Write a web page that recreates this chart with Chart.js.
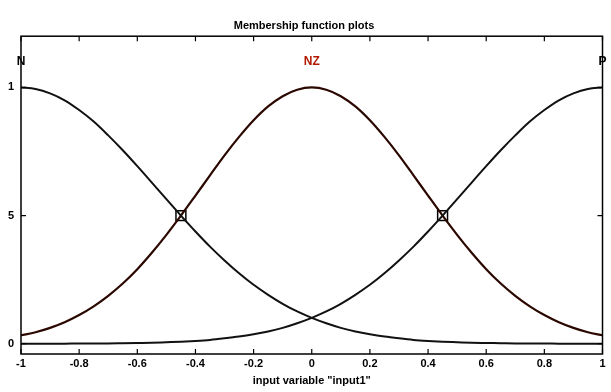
<!DOCTYPE html>
<html>
<head>
<title>Membership function plots</title>
<script src="https://cdn.jsdelivr.net/npm/chart.js@4.4.1/dist/chart.umd.min.js"></script>
<style>
body { margin: 0; background: #ffffff; }
#wrap { width: 611px; height: 392px; }
</style>
</head>
<body>
<div id="wrap"><canvas id="mf" width="611" height="392"></canvas></div>
<script>
// x from -1 to 1, step 0.05
var xs = [-1,-0.95,-0.9,-0.85,-0.8,-0.75,-0.7,-0.65,-0.6,-0.55,-0.5,-0.45,-0.4,-0.35,-0.3,-0.25,-0.2,-0.15,-0.1,-0.05,0,
          0.05,0.1,0.15,0.2,0.25,0.3,0.35,0.4,0.45,0.5,0.55,0.6,0.65,0.7,0.75,0.8,0.85,0.9,0.95,1];
var mfN  = [1,0.994,0.977,0.95,0.912,0.867,0.813,0.755,0.693,0.629,0.564,0.5,0.438,0.379,0.325,0.275,0.23,0.191,0.156,0.126,0.101,
            0.08,0.062,0.048,0.037,0.028,0.021,0.015,0.011,0.008,0.006,0.004,0.003,0.002,0.001,0.001,0.001,0,0,0,0];
var mfNZ = [0.033,0.045,0.062,0.084,0.112,0.146,0.187,0.235,0.291,0.355,0.425,0.5,0.578,0.657,0.735,0.807,0.872,0.926,0.966,0.991,1,
            0.991,0.966,0.926,0.872,0.807,0.735,0.657,0.578,0.5,0.425,0.355,0.291,0.235,0.187,0.146,0.112,0.084,0.062,0.045,0.033];
var mfP  = [0,0,0,0,0.001,0.001,0.001,0.002,0.003,0.004,0.006,0.008,0.011,0.015,0.021,0.028,0.037,0.048,0.062,0.08,0.101,
            0.126,0.156,0.191,0.23,0.275,0.325,0.379,0.438,0.5,0.564,0.629,0.693,0.755,0.813,0.867,0.912,0.95,0.977,0.994,1];
var crossX = [-0.45, 0.45];
var crossY = [0.5, 0.5];
var mfNames = ['N', 'NZ', 'P'];
var namePosX = [-1, 0, 1];
var xTicks = [-1,-0.8,-0.6,-0.4,-0.2,0,0.2,0.4,0.6,0.8,1];
var yTicks = [0, 0.5, 1];
var yTickText = ['0', '5', '1'];

function pts(ys) {
  return xs.map(function (x, i) { return { x: x, y: ys[i] }; });
}
var crossPts = crossX.map(function (x, i) { return { x: x, y: crossY[i] }; });

var FONT = "'Liberation Sans Narrow', 'Liberation Sans', Arial, sans-serif";

// frame, inward ticks on all four sides, mf names
var framePlugin = {
  id: 'frame',
  afterDraw: function (chart) {
    var ctx = chart.ctx, a = chart.chartArea;
    var sx = chart.scales.x, sy = chart.scales.y;
    ctx.save();
    ctx.strokeStyle = '#000';
    ctx.lineWidth = 1.5;
    ctx.strokeRect(a.left, a.top, a.right - a.left, a.bottom - a.top);
    ctx.lineWidth = 1.2;
    ctx.beginPath();
    xTicks.forEach(function (v) {
      var px = sx.getPixelForValue(v);
      ctx.moveTo(px, a.bottom); ctx.lineTo(px, a.bottom - 5);
      ctx.moveTo(px, a.top); ctx.lineTo(px, a.top + 5);
    });
    yTicks.forEach(function (v) {
      var py = sy.getPixelForValue(v);
      ctx.moveTo(a.left, py); ctx.lineTo(a.left + 5, py);
      ctx.moveTo(a.right, py); ctx.lineTo(a.right - 5, py);
    });
    ctx.stroke();
    ctx.font = 'bold 12px ' + FONT;
    ctx.textAlign = 'center';
    ctx.textBaseline = 'middle';
    mfNames.forEach(function (n, i) {
      ctx.fillStyle = n === 'NZ' ? '#b01800' : '#000';
      ctx.fillText(n, sx.getPixelForValue(namePosX[i]), sy.getPixelForValue(1.1));
    });
    ctx.restore();
  }
};

new Chart(document.getElementById('mf'), {
  type: 'line',
  data: {
    datasets: [
      { label: 'N', data: pts(mfN), borderColor: '#111', borderWidth: 2, pointRadius: 0, cubicInterpolationMode: 'monotone' },
      { label: 'P', data: pts(mfP), borderColor: '#111', borderWidth: 2, pointRadius: 0, cubicInterpolationMode: 'monotone' },
      { label: 'NZ', data: pts(mfNZ), borderColor: '#2a0800', borderWidth: 2.2, pointRadius: 0, cubicInterpolationMode: 'monotone' },
      { label: 'box', data: crossPts, showLine: false, pointStyle: 'rect', pointRadius: 7,
        pointBackgroundColor: '#fff', pointBorderColor: '#000', pointBorderWidth: 1.5 },
      { label: 'x', data: crossPts, showLine: false, pointStyle: 'crossRot', pointRadius: 6,
        pointBorderColor: '#000', pointBorderWidth: 1 }
    ]
  },
  options: {
    responsive: false,
    animation: false,
    layout: { padding: { left: 0, right: 3, top: 0, bottom: 0 } },
    plugins: {
      legend: { display: false },
      tooltip: { enabled: false },
      title: {
        display: true,
        text: 'Membership function plots',
        color: '#000',
        font: { family: FONT, size: 11, weight: 'bold', lineHeight: 1.2 },
        padding: { top: 19, bottom: 4 }
      }
    },
    scales: {
      x: {
        type: 'linear', min: -1, max: 1,
        grid: { display: false, drawTicks: false },
        border: { display: false },
        afterBuildTicks: function (s) { s.ticks = xTicks.map(function (v) { return { value: v }; }); },
        afterFit: function (s) { s.height = 38; },
        ticks: {
          padding: 3, color: '#000', maxRotation: 0, autoSkip: false,
          font: { family: FONT, size: 11, weight: 'bold' },
          callback: function (v) { return String(Math.round(v * 10) / 10); }
        },
        title: {
          display: true, text: 'input variable "input1"', color: '#000',
          font: { family: FONT, size: 11, weight: 'bold', lineHeight: 1.2 },
          padding: { top: 0, bottom: 4 }
        }
      },
      y: {
        type: 'linear', min: -0.04, max: 1.2,
        grid: { display: false, drawTicks: false },
        border: { display: false },
        afterBuildTicks: function (s) { s.ticks = yTicks.map(function (v) { return { value: v }; }); },
        afterFit: function (s) { s.width = 21; },
        ticks: {
          padding: 7, color: '#000', autoSkip: false,
          font: { family: FONT, size: 11, weight: 'bold' },
          callback: function (v) { return yTickText[yTicks.indexOf(v)]; }
        }
      }
    }
  },
  plugins: [framePlugin]
});
</script>
</body>
</html>
